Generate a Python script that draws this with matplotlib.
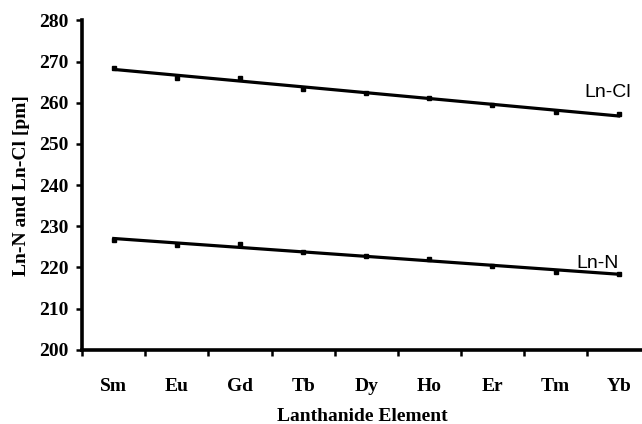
import numpy as np
import matplotlib
matplotlib.use('Agg')
import matplotlib.pyplot as plt

elements = ['Sm', 'Eu', 'Gd', 'Tb', 'Dy', 'Ho', 'Er', 'Tm', 'Yb']
ln_cl = [268.5, 266.0, 266.0, 263.4, 262.3, 261.2, 259.4, 257.8, 257.3]
ln_n = [226.6, 225.5, 225.8, 223.8, 222.8, 222.0, 220.3, 219.0, 218.4]

x = np.arange(len(elements))

fig = plt.figure(figsize=(6.42, 4.24), dpi=100)
ax = fig.add_axes([0.128, 0.175, 0.872, 0.777])

# fitted line + measured points, label near the right end
for y, name, tx, ty in [(ln_cl, 'Ln-Cl', 7.82, 260.4), (ln_n, 'Ln-N', 7.67, 219.0)]:
    k, b = np.polyfit(x, y, 1)
    ax.plot(x, k * x + b, color='black', lw=2.3, zorder=2)
    ax.plot(x, y, 's', color='black', ms=3.5, zorder=3)
    ax.text(tx, ty, name, fontsize=14, fontfamily='Liberation Sans',
            ha='center', va='bottom')

ax.set_xlim(-0.5, 8.37)
ax.set_ylim(200, 280)
ax.set_xticks(np.arange(-0.5, 8.5, 1.0))
ax.set_xticklabels([])
ax.set_xticks(x, minor=True)
ax.set_xticklabels(elements, minor=True)
ax.tick_params(axis='x', which='minor', length=0, pad=20)
ax.tick_params(axis='x', which='major', length=4, width=1.8, direction='out')
ax.set_yticks(np.arange(200, 281, 10))
ax.tick_params(axis='y', length=4, width=1.8, direction='out', pad=6)

for lab in ax.get_xticklabels(minor=True) + ax.get_yticklabels():
    lab.set_fontfamily('Liberation Serif')
    lab.set_fontweight('bold')
    lab.set_fontsize(14)

for s in ['top', 'right']:
    ax.spines[s].set_visible(False)
for s in ['left', 'bottom']:
    ax.spines[s].set_linewidth(2.6)

ax.set_xlabel('Lanthanide Element', fontfamily='Liberation Serif',
              fontweight='bold', fontsize=14, labelpad=10)
ax.set_ylabel('Ln-N and Ln-Cl [pm]', fontfamily='Liberation Serif',
              fontweight='bold', fontsize=14, labelpad=6)

fig.savefig('out.png', dpi=100)
